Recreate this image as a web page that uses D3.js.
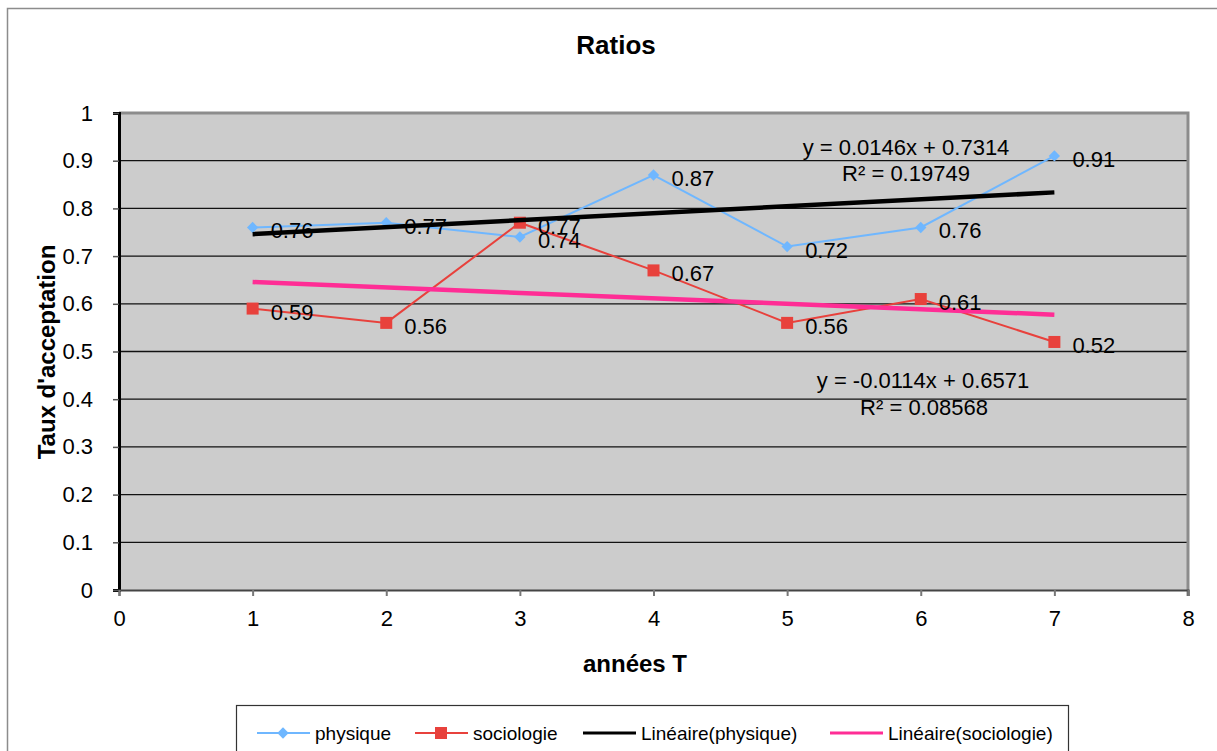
<html>
<script src='https://d3js.org/d3.v7.min.js'></script>
<style>
  body { margin: 0; background: white; }
  text { font-family: "Liberation Sans", Arial, sans-serif; fill: black; }
</style>
<body onload='init()'>
<svg width=1217 height=751></svg>
<script>
// values
var years = [1, 2, 3, 4, 5, 6, 7];
var physique = [0.76, 0.77, 0.74, 0.87, 0.72, 0.76, 0.91];
var sociologie = [0.59, 0.56, 0.77, 0.67, 0.56, 0.61, 0.52];
var xTicks = [0, 1, 2, 3, 4, 5, 6, 7, 8];
var yTicks = [0, 0.1, 0.2, 0.3, 0.4, 0.5, 0.6, 0.7, 0.8, 0.9, 1];
// trend lines as printed on the chart
var trendPhys = { a: 0.0146, b: 0.7314, label: "y = 0.0146x + 0.7314", r2: "R² = 0.19749" };
var trendSoc = { a: -0.0114, b: 0.6571, label: "y = -0.0114x + 0.6571", r2: "R² = 0.08568" };

function init() {
  var svg = d3.select("svg");

  // outer chart border (only top/left visible)
  svg.append("path").attr("d", "M7.5,751 V8.5 H1217")
    .attr("fill", "none").attr("stroke", "#8c8c8c").attr("stroke-width", 1.5);

  var x = d3.scaleLinear().domain([0, 8]).range([119, 1188]);
  var y = d3.scaleLinear().domain([0, 1]).range([590, 113]);

  // plot area
  svg.append("rect")
    .attr("x", x(0)).attr("y", y(1))
    .attr("width", x(8) - x(0)).attr("height", y(0) - y(1))
    .attr("fill", "#cccccc");

  // horizontal gridlines
  svg.append("g").selectAll("line").data(yTicks.slice(1, -1)).enter().append("line")
    .attr("x1", x(0)).attr("x2", x(8))
    .attr("y1", function(d) { return y(d); }).attr("y2", function(d) { return y(d); })
    .attr("stroke", "#111").attr("stroke-width", 1.3);

  // top + right border of plot
  svg.append("path").attr("d", "M" + x(0) + "," + y(1) + " H" + x(8) + " V" + (y(0) + 6))
    .attr("fill", "none").attr("stroke", "#8c8c8c").attr("stroke-width", 3);

  // y axis
  var yAxis = d3.axisLeft(y).tickValues(yTicks).tickSize(6).tickPadding(20)
    .tickFormat(function(d) { return d === 0 || d === 1 ? d : d3.format(".1f")(d); });
  var gy = svg.append("g").attr("transform", "translate(" + x(0) + ",0)").call(yAxis);
  gy.select(".domain").attr("stroke", "black").attr("stroke-width", 3);
  gy.selectAll(".tick line").attr("stroke", "#555").attr("stroke-width", 1.5);
  gy.selectAll("text").style("font-size", "22px").attr("fill", "black");

  // x axis
  var xAxis = d3.axisBottom(x).tickValues(xTicks).tickSize(6).tickPadding(14);
  var gx = svg.append("g").attr("transform", "translate(0," + y(0) + ")").call(xAxis);
  gx.select(".domain").attr("stroke", "#444").attr("stroke-width", 2);
  gx.selectAll(".tick line").attr("stroke", "#777").attr("stroke-width", 2);
  gx.selectAll("text").style("font-size", "22px").attr("fill", "black");

  // titles
  svg.append("text").attr("x", 616).attr("y", 54).attr("text-anchor", "middle")
    .style("font-size", "26px").style("font-weight", "bold").text("Ratios");
  svg.append("text").attr("x", 635).attr("y", 672).attr("text-anchor", "middle")
    .style("font-size", "24px").style("font-weight", "bold").text("années T");
  svg.append("text").attr("transform", "translate(55,352) rotate(-90)").attr("text-anchor", "middle")
    .style("font-size", "24px").style("font-weight", "bold").text("Taux d'acceptation");

  var line = d3.line()
    .x(function(d, i) { return x(years[i]); })
    .y(function(d) { return y(d); });

  // series lines
  svg.append("path").attr("d", line(physique))
    .attr("fill", "none").attr("stroke", "#6fb7ff").attr("stroke-width", 2);
  svg.append("path").attr("d", line(sociologie))
    .attr("fill", "none").attr("stroke", "#e8413c").attr("stroke-width", 2);

  // markers
  svg.append("g").selectAll("rect").data(physique).enter().append("rect")
    .attr("x", -4).attr("y", -4).attr("width", 8).attr("height", 8)
    .attr("transform", function(d, i) { return "translate(" + x(years[i]) + "," + y(d) + ") rotate(45)"; })
    .attr("fill", "#6fb7ff");
  svg.append("g").selectAll("rect").data(sociologie).enter().append("rect")
    .attr("x", function(d, i) { return x(years[i]) - 6; })
    .attr("y", function(d) { return y(d) - 6; })
    .attr("width", 12).attr("height", 12)
    .attr("fill", "#e8413c");

  // trend lines
  function trend(t) {
    return [years[0], years[years.length - 1]].map(function(v) { return [x(v), y(t.a * v + t.b)]; });
  }
  svg.append("path").attr("d", d3.line()(trend(trendPhys)))
    .attr("stroke", "black").attr("stroke-width", 4.5).attr("fill", "none");
  svg.append("path").attr("d", d3.line()(trend(trendSoc)))
    .attr("stroke", "#ff2d95").attr("stroke-width", 4.5).attr("fill", "none");

  // data labels
  function labels(data) {
    svg.append("g").selectAll("text").data(data).enter().append("text")
      .attr("x", function(d, i) { return x(years[i]) + 18; })
      .attr("y", function(d) { return y(d) + 11; })
      .style("font-size", "22px")
      .text(function(d) { return d; });
  }
  labels(physique);
  labels(sociologie);

  // trend equations
  svg.append("text").attr("x", 906).attr("y", 155).attr("text-anchor", "middle")
    .style("font-size", "22px").text(trendPhys.label);
  svg.append("text").attr("x", 906).attr("y", 181).attr("text-anchor", "middle")
    .style("font-size", "22px").text(trendPhys.r2);
  svg.append("text").attr("x", 923).attr("y", 388).attr("text-anchor", "middle")
    .style("font-size", "22px").text(trendSoc.label);
  svg.append("text").attr("x", 924).attr("y", 415).attr("text-anchor", "middle")
    .style("font-size", "22px").text(trendSoc.r2);

  // legend
  var lg = svg.append("g");
  lg.append("rect").attr("x", 236.5).attr("y", 705.5).attr("width", 832).attr("height", 60)
    .attr("fill", "white").attr("stroke", "#333").attr("stroke-width", 1.2);
  var items = [
    { name: "physique", color: "#6fb7ff", x: 257, mark: "diamond" },
    { name: "sociologie", color: "#e8413c", x: 415, mark: "square" },
    { name: "Linéaire(physique)", color: "black", x: 583, mark: null },
    { name: "Linéaire(sociologie)", color: "#ff2d95", x: 830, mark: null }
  ];
  var ly = 733;
  items.forEach(function(it) {
    lg.append("line").attr("x1", it.x).attr("x2", it.x + 53).attr("y1", ly).attr("y2", ly)
      .attr("stroke", it.color).attr("stroke-width", it.mark ? 2 : 3);
    if (it.mark === "diamond") {
      lg.append("rect").attr("x", -4).attr("y", -4).attr("width", 8).attr("height", 8)
        .attr("transform", "translate(" + (it.x + 26) + "," + ly + ") rotate(45)")
        .attr("fill", it.color);
    } else if (it.mark === "square") {
      lg.append("rect").attr("x", it.x + 20).attr("y", ly - 6).attr("width", 12).attr("height", 12)
        .attr("fill", it.color);
    }
    lg.append("text").attr("x", it.x + 58).attr("y", ly + 7).style("font-size", "19px").text(it.name);
  });
}
</script>
</body>
</html>
